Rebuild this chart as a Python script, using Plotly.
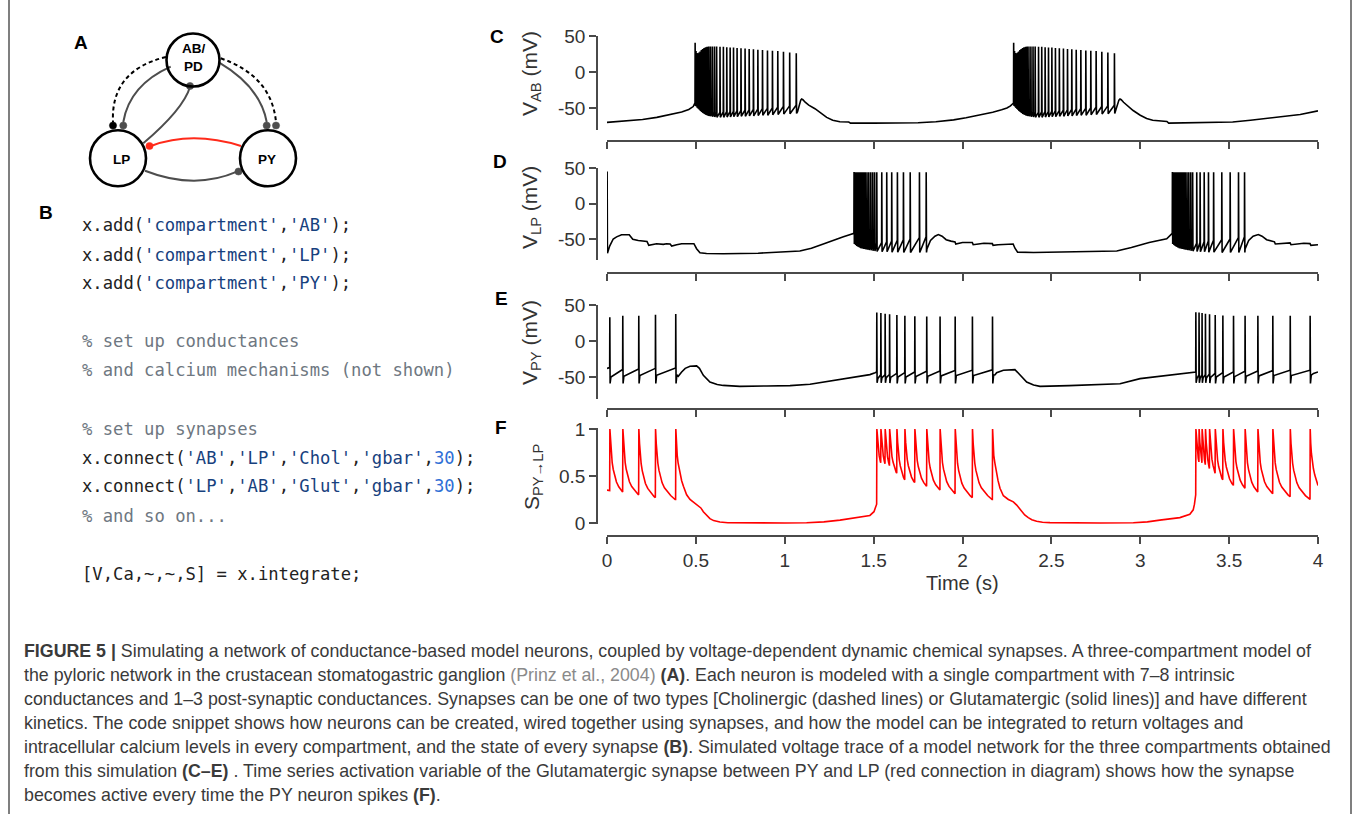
import numpy as np
import plotly.graph_objects as go

W, H = 1358, 814


def px(x):
    return x / W


def py(y):
    return 1 - y / H


# ----------------------------------------------------------------- data ----
T_TICKS = [0, 0.5, 1, 1.5, 2, 2.5, 3, 3.5, 4]
T_LABELS = ['0', '0.5', '1', '1.5', '2', '2.5', '3', '3.5', '4']
V_TICKS = [-50, 0, 50]
V_LABELS = ['-50', '0', '50']
S_TICKS = [0, 0.5, 1]
S_LABELS = ['0', '0.5', '1']

# --- AB neuron (panel C): slow membrane potential between bursts (s, mV)
ab_seg0_t = [0.0, 0.10, 0.20, 0.28, 0.36, 0.42, 0.46, 0.485]
ab_seg0_v = [-70, -68.5, -66, -63, -59, -55.5, -52, -48]
ab_seg1_t = [1.072, 1.082, 1.090, 1.095, 1.102, 1.115, 1.135, 1.17, 1.20, 1.236,
             1.27, 1.31, 1.36, 1.37, 1.50, 1.65, 1.75, 1.85, 1.95, 2.02, 2.10,
             2.17, 2.22, 2.25, 2.27]
ab_seg1_v = [-55, -45, -39, -37.5, -38.5, -42, -46, -51, -57, -63, -67, -69,
             -69.5, -71, -71, -71, -70.5, -69, -66.5, -63.5, -60, -56, -52.5,
             -50, -47]
ab_seg2_t = [2.860, 2.870, 2.880, 2.886, 2.893, 2.906, 2.925, 2.96, 3.00, 3.036,
             3.07, 3.11, 3.15, 3.16, 3.30, 3.52, 3.62, 3.71, 3.80, 3.90, 4.0]
ab_seg2_v = [-55, -45, -39, -37.5, -38.5, -42, -46, -53.5, -60, -64.5, -67, -68,
             -68.7, -71, -70.5, -69.5, -67, -64.5, -62, -59, -54]
# AB spike times of the two bursts (s)
ab_b1_t = [0.495, 0.500, 0.505, 0.511, 0.517, 0.523, 0.530, 0.537, 0.545, 0.553,
           0.562, 0.571, 0.581, 0.592, 0.604,
           0.616, 0.635, 0.654, 0.673, 0.692, 0.711, 0.731, 0.753, 0.776, 0.799,
           0.823, 0.848, 0.874, 0.902, 0.930, 0.960, 0.992, 1.027, 1.064]
ab_b2_t = [2.287, 2.292, 2.297, 2.303, 2.309, 2.315, 2.322, 2.329, 2.337, 2.345,
           2.354, 2.363, 2.373, 2.384, 2.396,
           2.408, 2.427, 2.445, 2.464, 2.483, 2.502, 2.522, 2.544, 2.567, 2.590,
           2.614, 2.639, 2.665, 2.693, 2.721, 2.751, 2.783, 2.817, 2.854]
# per-spike peak / after-trough / pre-spike voltage (mV), same in both bursts
ab_peak = [40.7, 29, 26.5, 26, 27, 28.5, 30.5, 32, 33.5, 34.5, 35, 35.5, 35.5,
           35.5, 35.5,
           35.5, 35, 35, 34.5, 34, 34, 33.5, 33, 32.5, 32, 31.5, 31, 30.5, 30,
           29.5, 29, 28, 27, 26]
ab_trough = [-47, -48, -49.5, -51, -52.5, -54, -55.5, -57, -58.5, -59.5, -60.5,
             -61, -61.5, -62, -62.5,
             -63, -63, -63, -62.5, -62.5, -62, -62, -61.5, -61.5, -61, -61,
             -60.5, -60, -60, -59.5, -59, -58.5, -58, -57.5]
ab_pre = [-43, -46, -47, -48, -49, -50, -51, -52, -53, -54, -54.5, -55, -55.5,
          -56, -56,
          -56, -56, -55.5, -55, -55, -54.5, -54, -53.5, -53, -52.5, -52, -51.5,
          -51, -50.5, -50, -49, -48, -47, -46]

# --- LP neuron (panel D)
lp_first_t = [0.0]
lp_first_pre = [-40]
lp_first_peak = [45]
lp_first_trough = [-70]
lp_seg0_t = [0.015, 0.035, 0.054, 0.082, 0.125, 0.145, 0.176, 0.20, 0.225, 0.235,
             0.261, 0.279, 0.317, 0.335, 0.355, 0.364, 0.392, 0.420, 0.489, 0.504,
             0.523, 0.56, 0.654, 0.85, 1.085, 1.15, 1.217, 1.28, 1.33, 1.365, 1.385]
lp_seg0_v = [-60, -50, -47, -44, -44, -50.5, -52, -53, -53.5, -59, -58, -56.6,
             -57.5, -56.6, -57, -60, -58, -56.6, -56.6, -63.7, -69.3, -70.5, -70.8,
             -70, -67, -63, -57, -52, -47, -44, -42.5]
lp_seg1_t = [1.80, 1.82, 1.845, 1.864, 1.885, 1.908, 1.935, 1.958, 1.962, 1.983,
             2.0, 2.055, 2.06, 2.09, 2.12, 2.168, 2.172, 2.2, 2.285, 2.295, 2.31,
             2.4, 2.6, 2.868, 2.95, 3.05, 3.149, 3.167, 3.178]
lp_seg1_v = [-64, -52, -46, -43.7, -46, -51, -53, -54, -57, -56, -55, -55, -58,
             -57, -56, -56.5, -59, -58, -57, -63, -68.5, -69, -68.5, -67, -62, -55,
             -49.8, -45, -43]
lp_seg2_t = [3.59, 3.61, 3.635, 3.664, 3.685, 3.711, 3.74, 3.755, 3.76, 3.80,
             3.843, 3.848, 3.88, 3.92, 3.955, 3.96, 4.0]
lp_seg2_v = [-64, -52, -46, -43.7, -46, -51, -53, -54, -57, -56, -55.5, -58, -57,
             -56, -56.5, -59, -58]
lp_b1_t = [1.389, 1.396, 1.403, 1.410, 1.418, 1.426, 1.434, 1.443, 1.452, 1.462,
           1.472, 1.483, 1.494, 1.505,
           1.517, 1.545, 1.573, 1.601, 1.633, 1.667, 1.705, 1.757, 1.795]
lp_b2_t = [3.180, 3.187, 3.194, 3.201, 3.209, 3.217, 3.225, 3.234, 3.243, 3.252,
           3.262, 3.272, 3.283, 3.294,
           3.317, 3.336, 3.359, 3.383, 3.412, 3.458, 3.505, 3.552, 3.586]
lp_peak = [44.5, 44, 44, 44, 44, 44, 44, 44, 44, 44, 44, 44, 44, 44,
           44, 44, 44, 44, 44, 44, 44, 44, 44]
lp_trough = [-57, -58.5, -60, -61, -62, -63, -63.5, -64, -64.5, -65, -65.5, -66,
             -66.5, -67,
             -67.5, -68, -68, -68.5, -68.5, -69, -69, -69, -69]
lp_pre = [-42, -50, -52, -53.5, -54.5, -55.5, -56, -56.5, -57, -57.5, -57.5,
          -57.5, -57, -57,
          -56, -55, -54, -53, -52, -51, -50, -48, -47]

# --- PY neuron (panel E)
py_seg0_t = [0.0]
py_seg0_v = [-38]
py_seg1_t = [0.401, 0.42, 0.44, 0.467, 0.504, 0.52, 0.542, 0.579, 0.62, 0.654,
             0.748, 0.9, 1.03, 1.142, 1.217, 1.311, 1.404, 1.479, 1.508]
py_seg1_v = [-49, -43, -38, -35, -34.6, -38, -47.7, -57, -60.5, -61.7, -63, -62.5,
             -62, -60, -57, -52.8, -50, -46.7, -44]
py_seg2_t = [2.183, 2.192, 2.23, 2.295, 2.323, 2.361, 2.40, 2.436, 2.6, 2.774,
             2.886, 2.999, 3.148, 3.261, 3.30]
py_seg2_v = [-47, -44, -40.6, -39.7, -47.7, -57, -61, -63, -62, -60.7, -59.3,
             -52.3, -47.7, -45, -43.5]
py_seg3_t = [3.975, 4.0]
py_seg3_v = [-45, -43]
py_b1_t = [0.015, 0.088, 0.178, 0.272, 0.386]
py_b1_pre = [-37, -39.5, -39, -38, -37.5]
py_b1_peak = [33, 35, 35, 36.4, 37.4]
py_b1_trough = [-59, -59, -59, -59, -59]
py_b1_after = [-50, -49, -48, -47.5, -47]
py_b2_t = [1.517, 1.540, 1.564, 1.589, 1.630, 1.675, 1.731, 1.798, 1.873, 1.958,
           2.055, 2.168]
py_b2_pre = [-43, -47, -47, -46.5, -45, -44, -43, -42, -41.5, -41, -40.5, -40]
py_b2_peak = [39.5, 38.8, 38, 37, 36, 35, 34.5, 34, 34, 34, 34, 34]
py_b2_trough = [-58, -58, -58, -58.5, -59, -59, -59, -59, -59, -59, -59, -59]
py_b2_after = [-52, -51, -51, -50.5, -50, -50, -49.5, -49, -48.5, -48, -48, -47.5]
py_b3_t = [3.312, 3.330, 3.347, 3.366, 3.389, 3.421, 3.464, 3.524, 3.589, 3.661,
           3.745, 3.843, 3.955]
py_b3_pre = [-43, -47, -47, -47, -46, -45, -44, -43, -42, -41.5, -41, -40.5, -40.5]
py_b3_peak = [40, 39.5, 39, 38, 37, 36, 35.5, 35, 35, 35, 35, 35, 35]
py_b3_trough = [-58, -58, -58, -58, -58.5, -59, -59, -59, -59, -59, -59, -59, -59]
py_b3_after = [-52, -51.5, -51, -51, -50.5, -50, -50, -49.5, -49, -48.5, -48, -48,
               -47.5]

# --- synapse activation S_PY->LP (panel F)
s_start_t = [0.0, 0.014]
s_start_v = [0.35, 0.345]
s_tau = [0.0, 0.004, 0.008, 0.013, 0.019, 0.027, 0.037, 0.05, 0.065, 0.085, 0.11]
s_shape = [1.0, 0.85, 0.74, 0.65, 0.58, 0.51, 0.45, 0.40, 0.36, 0.32, 0.28]
# value reached just before each following PY spike
s_b1_trough = [0.33, 0.30, 0.27, 0.25]
s_b2_trough = [0.64, 0.63, 0.61, 0.53, 0.46, 0.43, 0.39, 0.35, 0.31, 0.27, 0.25]
s_b3_trough = [0.65, 0.64, 0.62, 0.58, 0.53, 0.46, 0.40, 0.37, 0.33, 0.31, 0.28,
               0.25]
s_post1_t = [0.39, 0.395, 0.40, 0.41, 0.42, 0.43, 0.448, 0.467, 0.495, 0.514,
             0.528, 0.542, 0.56, 0.579, 0.60, 0.635, 0.68, 0.8, 1.0, 1.123, 1.22,
             1.311, 1.404, 1.479, 1.502, 1.51, 1.516]
s_post1_v = [0.82, 0.72, 0.64, 0.53, 0.45, 0.39, 0.30, 0.25, 0.21, 0.19, 0.16,
             0.12, 0.08, 0.046, 0.025, 0.01, 0.003, 0.0, 0.0, 0.002, 0.012, 0.03,
             0.057, 0.08, 0.12, 0.17, 0.2]
s_post2_t = [2.171, 2.176, 2.182, 2.192, 2.20, 2.211, 2.23, 2.258, 2.286, 2.305,
             2.32, 2.333, 2.35, 2.37, 2.39, 2.417, 2.45, 2.492, 2.6, 2.774, 2.961,
             3.04, 3.11, 3.17, 3.223, 3.279, 3.298, 3.305, 3.310]
s_post2_v = [0.82, 0.72, 0.64, 0.53, 0.45, 0.37, 0.29, 0.25, 0.225, 0.19, 0.155,
             0.12, 0.085, 0.057, 0.035, 0.018, 0.008, 0.004, 0.001, 0.0, 0.002,
             0.012, 0.03, 0.045, 0.057, 0.093, 0.14, 0.2, 0.3]
s_post3_t = [3.959, 3.963, 3.968, 3.974, 3.982, 3.992, 4.0]
s_post3_v = [0.85, 0.74, 0.65, 0.58, 0.51, 0.45, 0.40]

# ------------------------------------------------------ trace assembly ----


def add_spikes(pts, times, pre, peak, trough, after=None):
    for i, ts in enumerate(times):
        pts.append((ts, pre[i]))
        pts.append((ts + 0.0008, peak[i]))
        pts.append((ts + 0.0025, trough[i]))
        if after is not None:
            pts.append((ts + 0.007, after[i]))


def finish(pts):
    pts.sort(key=lambda p: p[0])
    return [p[0] for p in pts], [p[1] for p in pts]


ab = list(zip(ab_seg0_t, ab_seg0_v)) + list(zip(ab_seg1_t, ab_seg1_v)) + \
    list(zip(ab_seg2_t, ab_seg2_v))
add_spikes(ab, ab_b1_t, ab_pre, ab_peak, ab_trough)
add_spikes(ab, ab_b2_t, ab_pre, ab_peak, ab_trough)
ab_t, ab_v = finish(ab)

lp = list(zip(lp_seg0_t, lp_seg0_v)) + list(zip(lp_seg1_t, lp_seg1_v)) + \
    list(zip(lp_seg2_t, lp_seg2_v))
add_spikes(lp, lp_first_t, lp_first_pre, lp_first_peak, lp_first_trough)
add_spikes(lp, lp_b1_t, lp_pre, lp_peak, lp_trough)
add_spikes(lp, lp_b2_t, lp_pre, lp_peak, lp_trough)
lp_t, lp_v = finish(lp)

pyn = list(zip(py_seg0_t, py_seg0_v)) + list(zip(py_seg1_t, py_seg1_v)) + \
    list(zip(py_seg2_t, py_seg2_v)) + list(zip(py_seg3_t, py_seg3_v))
add_spikes(pyn, py_b1_t, py_b1_pre, py_b1_peak, py_b1_trough, py_b1_after)
add_spikes(pyn, py_b2_t, py_b2_pre, py_b2_peak, py_b2_trough, py_b2_after)
add_spikes(pyn, py_b3_t, py_b3_pre, py_b3_peak, py_b3_trough, py_b3_after)
py_t, py_v = finish(pyn)


def build_s():
    pts = list(zip(s_start_t, s_start_v))
    prev = s_start_v[-1]
    groups = [(py_b1_t, s_b1_trough, s_post1_t, s_post1_v),
              (py_b2_t, s_b2_trough, s_post2_t, s_post2_v),
              (py_b3_t, s_b3_trough, s_post3_t, s_post3_v)]
    for times, troughs, post_t, post_v in groups:
        for i, ts in enumerate(times):
            top = ts + 0.0012
            pts.append((ts, prev))
            pts.append((top, 1.0))
            if i < len(times) - 1:
                d = times[i + 1] - top
                trough = troughs[i]
                gd = float(np.interp(d, s_tau, s_shape))
                for tau, g in zip(s_tau[1:], s_shape[1:]):
                    if tau < d - 0.001:
                        pts.append((top + tau,
                                    trough + (1 - trough) * (g - gd) / (1 - gd)))
                prev = trough
            else:
                pts += list(zip(post_t, post_v))
                prev = post_v[-1]
    return finish(pts)


s_t, s_v = build_s()

# --------------------------------------------------------------- figure ----
fig = go.Figure()
TXT = '#333333'
AX = '#4a4a4a'
FONT = 'Liberation Sans, Arial, Helvetica, sans-serif'

fig.add_trace(go.Scatter(x=ab_t, y=ab_v, mode='lines', xaxis='x', yaxis='y',
                         line=dict(color='black', width=1.6), hoverinfo='skip'))
fig.add_trace(go.Scatter(x=lp_t, y=lp_v, mode='lines', xaxis='x2', yaxis='y2',
                         line=dict(color='black', width=1.6), hoverinfo='skip'))
fig.add_trace(go.Scatter(x=py_t, y=py_v, mode='lines', xaxis='x3', yaxis='y3',
                         line=dict(color='black', width=1.6), hoverinfo='skip'))
fig.add_trace(go.Scatter(x=s_t, y=s_v, mode='lines', xaxis='x4', yaxis='y4',
                         line=dict(color='#ff0000', width=1.6), hoverinfo='skip'))

# panel geometry (pixels): y-domain top/bottom and x-axis line position
panels = [
    dict(top=36.0, bot=129.6, xline=141, rng=[-80, 50], tv=V_TICKS, tt=V_LABELS),
    dict(top=168.0, bot=260.3, xline=273, rng=[-80, 50], tv=V_TICKS, tt=V_LABELS),
    dict(top=305.0, bot=398.6, xline=409, rng=[-80, 50], tv=V_TICKS, tt=V_LABELS),
    dict(top=428.1, bot=523.9, xline=536, rng=[-0.01, 1.01], tv=S_TICKS, tt=S_LABELS),
]
layout_axes = {}
for i, p in enumerate(panels):
    sfx = '' if i == 0 else str(i + 1)
    layout_axes['xaxis' + sfx] = dict(
        domain=[px(607), px(1318)], range=[0, 4], anchor='free', automargin=False,
        position=py(p['xline']), showline=True, linecolor=AX, linewidth=1.6,
        ticks='outside', ticklen=7, tickwidth=1.6, tickcolor=AX,
        tickvals=T_TICKS, ticktext=T_LABELS, showgrid=False, zeroline=False,
        showticklabels=(i == 3), tickfont=dict(family=FONT, size=19, color=TXT))
    layout_axes['yaxis' + sfx] = dict(
        domain=[py(p['bot']), py(p['top'])], range=p['rng'], anchor='free',
        automargin=False,
        position=px(597), showline=True, linecolor=AX, linewidth=1.6,
        ticks='outside', ticklen=7, tickwidth=1.6, tickcolor=AX,
        tickvals=p['tv'], ticktext=p['tt'], showgrid=False, zeroline=False,
        tickfont=dict(family=FONT, size=19, color=TXT))

annotations = []


def note(x, y, text, size, color=TXT, bold=False, angle=0, family=FONT,
         xanchor='center'):
    annotations.append(dict(
        x=px(x), y=py(y), xref='paper', yref='paper', showarrow=False,
        text=('<b>%s</b>' % text) if bold else text, textangle=angle,
        xanchor=xanchor, yanchor='middle',
        font=dict(family=family, size=size, color=color)))


# axis titles
note(531, 74, 'V<sub>AB</sub> (mV)', 21, angle=-90)
note(531, 208, 'V<sub>LP</sub> (mV)', 21, angle=-90)
note(531, 343, 'V<sub>PY</sub> (mV)', 21, angle=-90)
note(533, 477, 'S<sub>PY\u2192LP</sub>', 21, angle=-90)
note(962.5, 583, 'Time (s)', 20)

# panel letters
for lab, x, y in [('A', 81, 42), ('B', 46, 213), ('C', 497, 36), ('D', 500, 161),
                  ('E', 501, 298), ('F', 501, 427)]:
    note(x, y, lab, 19, color='black', bold=True)

# network diagram labels
note(193, 48, 'AB/', 13.5, color='black', bold=True)
note(193, 66, 'PD', 13.5, color='black', bold=True)
note(121, 160, 'LP', 13.5, color='black', bold=True)
note(267, 160, 'PY', 13.5, color='black', bold=True)

# code snippet
MONO = 'DejaVu Sans Mono, monospace'
CS, CN, CC, CK = '#17417e', '#2f6fd6', '#6e7781', '#222222'


def s_(t):
    return "<span style='color:%s'>'%s'</span>" % (CS, t)


def n_(t):
    return "<span style='color:%s'>%s</span>" % (CN, t)


def c_(t):
    return "<span style='color:%s'>%s</span>" % (CC, t)


code_lines = [
    (225, "x.add(%s,%s);" % (s_('compartment'), s_('AB'))),
    (254.5, "x.add(%s,%s);" % (s_('compartment'), s_('LP'))),
    (283.5, "x.add(%s,%s);" % (s_('compartment'), s_('PY'))),
    (341, c_('% set up conductances')),
    (370, c_('% and calcium mechanisms (not shown)')),
    (428.5, c_('% set up synapses')),
    (457.5, "x.connect(%s,%s,%s,%s,%s);" % (s_('AB'), s_('LP'), s_('Chol'),
                                            s_('gbar'), n_('30'))),
    (486.5, "x.connect(%s,%s,%s,%s,%s);" % (s_('LP'), s_('AB'), s_('Glut'),
                                            s_('gbar'), n_('30'))),
    (515.5, c_('% and so on...')),
    (573.5, "[V,Ca,~,~,S] = x.integrate;"),
]
for y, t in code_lines:
    note(79.5, y, t, 17.2, color=CK, family=MONO, xanchor='left')

# caption
CAP = 'Liberation Sans, Arial, Helvetica, sans-serif'
GR = "<span style='color:#8a8a8a'>(Prinz et al., 2004)</span>"
cap_lines = [
    "<b>FIGURE 5 |</b> Simulating a network of conductance-based model neurons, "
    "coupled by voltage-dependent dynamic chemical synapses. A three-compartment model of",
    "the pyloric network in the crustacean stomatogastric ganglion " + GR +
    " <b>(A)</b>. Each neuron is modeled with a single compartment with 7\u20138 intrinsic",
    "conductances and 1\u20133 post-synaptic conductances. Synapses can be one of two "
    "types [Cholinergic (dashed lines) or Glutamatergic (solid lines)] and have different",
    "kinetics. The code snippet shows how neurons can be created, wired together using "
    "synapses, and how the model can be integrated to return voltages and",
    "intracellular calcium levels in every compartment, and the state of every synapse "
    "<b>(B)</b>. Simulated voltage trace of a model network for the three compartments obtained",
    "from this simulation <b>(C\u2013E)</b> . Time series activation variable of the "
    "Glutamatergic synapse between PY and LP (red connection in diagram) shows how the synapse",
    "becomes active every time the PY neuron spikes <b>(F)</b>.",
]
for k, t in enumerate(cap_lines):
    note(22, 650.5 + k * 24.0, t, 17.8, color='#3a3a3a', family=CAP,
         xanchor='left')

# ---------------------------------------------------------------- shapes ----
shapes = []


def circle(cx, cy, r, color='black', width=2.6, fill=None):
    shapes.append(dict(type='circle', xref='paper', yref='paper',
                       x0=px(cx - r), x1=px(cx + r), y0=py(cy + r), y1=py(cy - r),
                       line=dict(color=color, width=width),
                       fillcolor=fill if fill else 'rgba(0,0,0,0)'))


def curve(p0, c, p1, color, dash='solid', width=2.0):
    path = 'M %.5f,%.5f Q %.5f,%.5f %.5f,%.5f' % (
        px(p0[0]), py(p0[1]), px(c[0]), py(c[1]), px(p1[0]), py(p1[1]))
    shapes.append(dict(type='path', xref='paper', yref='paper', path=path,
                       line=dict(color=color, width=width, dash=dash)))


def dot(cx, cy, color, r=3.6):
    circle(cx, cy, r, color=color, width=0.5, fill=color)


GRY = '#4d4d4d'
curve((166, 57), (110.5, 70.5), (113, 122), 'black', dash='4px,3px')
dot(113, 125.5, 'black')
curve((170.7, 66.7), (129.6, 85), (123.3, 122), GRY)
dot(123.3, 125.5, GRY)
curve((143.3, 143.3), (183.3, 109.2), (190, 87), GRY)
dot(190, 86, GRY)
curve((220.7, 58.3), (271.6, 75.8), (276, 122), 'black', dash='4px,3px')
dot(276, 125.5, GRY)
curve((219.3, 62.7), (260.4, 87), (266.7, 122), GRY)
dot(266.7, 125.5, GRY)
curve((241, 146), (192, 130.6), (151, 146), '#ff2a1a')
dot(149.5, 146, '#ff2a1a')
curve((145, 170.7), (194.6, 190.2), (237, 171.7), GRY)
dot(238.5, 171.5, GRY)
circle(193, 60, 26.5)
circle(118, 158.3, 28)
circle(268, 158.3, 28)

# outer frame lines
for x in (9, 1351):
    shapes.append(dict(type='line', xref='paper', yref='paper', x0=px(x), x1=px(x),
                       y0=0, y1=1, line=dict(color='#555555', width=1.5)))

fig.update_layout(
    width=W, height=H,
    margin=dict(l=0, r=0, t=0, b=0, pad=0, autoexpand=False),
    paper_bgcolor='white', plot_bgcolor='white', showlegend=False,
    annotations=annotations, shapes=shapes, **layout_axes)

fig.write_html('out.html')
